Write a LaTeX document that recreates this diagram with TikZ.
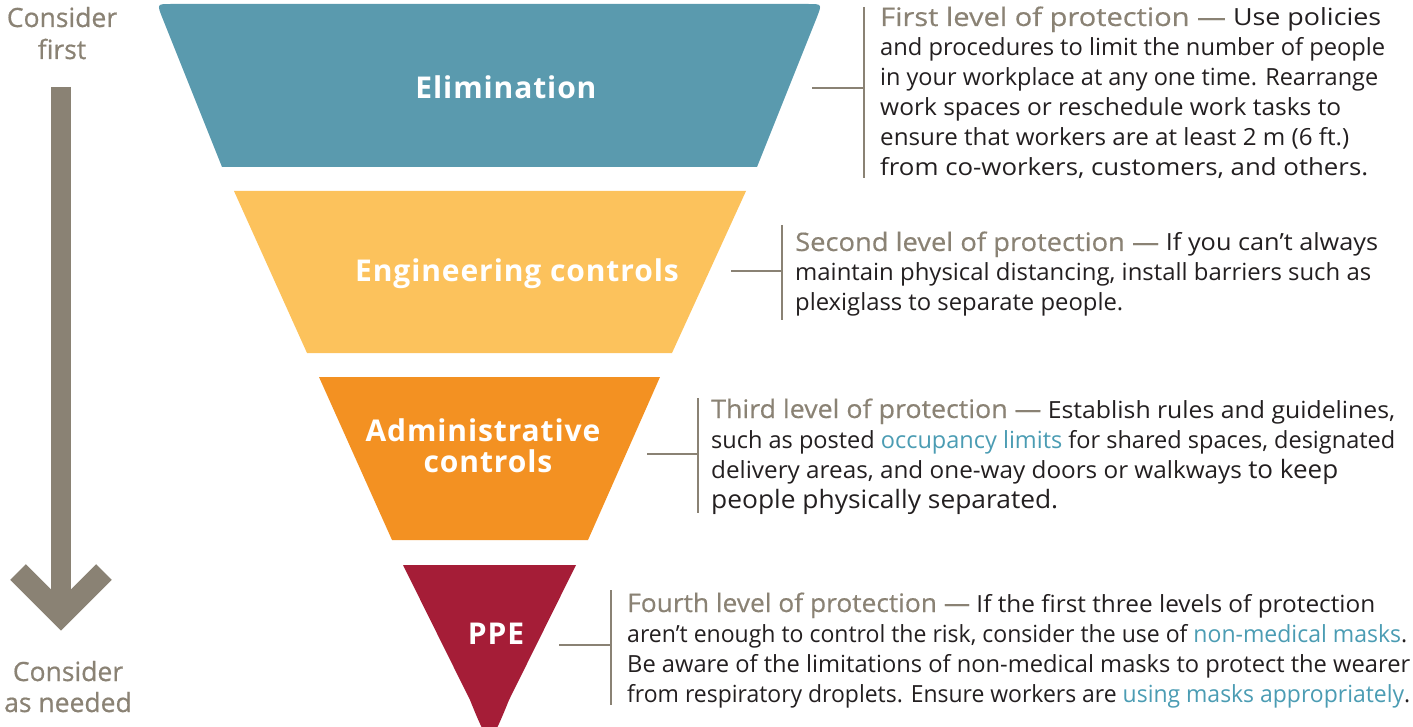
\documentclass[tikz,border=0pt]{standalone}
\usepackage{fontspec}
\usepackage{graphicx}
\setmainfont{Open Sans}
\definecolor{taupe}{HTML}{8A8274}
\definecolor{bodytxt}{HTML}{231F20}
\definecolor{linktxt}{HTML}{4B9CB3}
\definecolor{elimc}{HTML}{5A9AAE}
\definecolor{engc}{HTML}{FCC25C}
\definecolor{admc}{HTML}{F39122}
\definecolor{ppec}{HTML}{A51D37}
\tikzset{
  body/.style={anchor=base west, inner sep=0pt, text=bodytxt, font=\fontsize{23.6}{30}\selectfont},
  side/.style={anchor=base, inner sep=0pt, text=taupe, font=\fontsize{26.5}{30}\selectfont\addfontfeatures{FakeBold=0.6}},
  lvl/.style={anchor=base, inner sep=0pt, text=white, font=\fontsize{30}{30}\selectfont\bfseries\addfontfeatures{LetterSpace=3}},
  conn/.style={draw=taupe, line width=2pt},
}
\newcommand{\hd}[1]{{\fontsize{25.5}{30}\selectfont\addfontfeatures{FakeBold=0.4}\textcolor{taupe}{#1}}}
\newcommand{\lk}[1]{\textcolor{linktxt}{#1}}
\newcommand{\bigpart}{\fontsize{25.3}{30}\selectfont}
\newcommand{\fitw}[2]{\resizebox{#1pt}{\height}{#2}}
\begin{document}
\begin{tikzpicture}[x=1pt,y=-1pt]
\useasboundingbox (0,0) rectangle (1413,727);
% shapes
\fill[elimc] (222,167) -- (162,17) .. controls (157,4) .. (171,4) -- (808,4) .. controls (822,4) .. (817,17) -- (757,167) -- cycle;
\fill[engc] (234,191) -- (746,191) -- (672,353) -- (307,353) -- cycle;
\fill[admc] (319,377) -- (660,377) -- (588,540) -- (392,540) -- cycle;
\fill[ppec] (403,565) -- (576,565) -- (509,700) .. controls (489.5,748) .. (470,700) -- cycle;
% labels
\node[lvl] (elim) at (506,99) {Elimination};
\node[lvl] (eng) at (517,282) {Engineering controls};
\node[lvl] (adm1) at (483,441) {Administrative};
\node[lvl] (adm2) at (488,472) {controls};
\node[lvl] (ppe) at (496,644) {PPE};
% connectors
\coordinate (c1a) at (812,88); \coordinate (c1b) at (864,88);
\coordinate (v1t) at (864,7); \coordinate (v1b) at (864,178);
\draw[conn] (c1a) -- (c1b); \draw[conn] (v1t) -- (v1b);
\coordinate (c2a) at (731,271); \coordinate (c2b) at (782,271);
\coordinate (v2t) at (782,225); \coordinate (v2b) at (782,320);
\draw[conn] (c2a) -- (c2b); \draw[conn] (v2t) -- (v2b);
\coordinate (c3a) at (647,454); \coordinate (c3b) at (698,454);
\coordinate (v3t) at (698,398); \coordinate (v3b) at (698,513);
\draw[conn] (c3a) -- (c3b); \draw[conn] (v3t) -- (v3b);
\coordinate (c4a) at (559,645); \coordinate (c4b) at (611,645);
\coordinate (v4t) at (611,590); \coordinate (v4b) at (611,705);
\draw[conn] (c4a) -- (c4b); \draw[conn] (v4t) -- (v4b);
% left arrow
\coordinate (shaftT) at (61,87); \coordinate (shaftB) at (61,605);
\coordinate (chL) at (18,572); \coordinate (chT) at (61,615); \coordinate (chR) at (104,572);
\draw[taupe, line width=20pt] (shaftT) -- (shaftB);
\draw[taupe, line width=22pt, miter limit=10] (chL) -- (chT) -- (chR);
\node[side] (cf1) at (62,27) {Consider};
\node[side] (cf2) at (62,59) {first};
\node[side] (cn1) at (68,681) {Consider};
\node[side] (cn2) at (68,712) {as needed};
% block 1
\node[body] (b1l1) at (880,26) {\fitw{501}{\hd{First level of protection —} Use policies}};
\node[body] (b1l2) at (880,56) {\fitw{505}{and procedures to limit the number of people}};
\node[body] (b1l3) at (880,86) {\fitw{498}{in your workplace at any one time. Rearrange}};
\node[body] (b1l4) at (880,116) {\fitw{461}{work spaces or reschedule work tasks to}};
\node[body] (b1l5) at (880,146) {\fitw{469}{ensure that workers are at least 2 m (6 ft.)}};
\node[body] (b1l6) at (880,176) {\fitw{488}{from co-workers, customers, and others.}};
% block 2
\node[body] (b2l1) at (795,251) {\fitw{583}{\hd{Second level of protection —} If you can’t always}};
\node[body] (b2l2) at (795,281) {\fitw{576}{maintain physical distancing, install barriers such as}};
\node[body] (b2l3) at (795,311) {\fitw{328}{plexiglass to separate people.}};
% block 3
\node[body] (b3l1) at (711,418) {\fitw{684}{\hd{Third level of protection —} Establish rules and guidelines,}};
\node[body] (b3l2) at (711,448) {\fitw{684}{such as posted \lk{occupancy limits} for shared spaces, designated}};
\node[body] (b3l3) at (711,478) {\fitw{627}{delivery areas, and one-way doors or walkways {\bigpart to keep}}};
\node[body] (b3l4) at (711,508) {\fitw{347}{\bigpart people physically separated.}};
% block 4
\node[body] (b4l1) at (627,612) {\fitw{748}{\hd{Fourth level of protection —} If the first three levels of protection}};
\node[body] (b4l2) at (627,642) {\fitw{780}{aren’t enough to control the risk, consider the use of \lk{non-medical masks}.}};
\node[body] (b4l3) at (627,672) {\fitw{783}{Be aware of the limitations of non-medical masks to protect the wearer}};
\node[body] (b4l4) at (627,702) {\fitw{783}{from respiratory droplets. Ensure workers are \lk{using masks appropriately}.}};
\end{tikzpicture}
\end{document}
